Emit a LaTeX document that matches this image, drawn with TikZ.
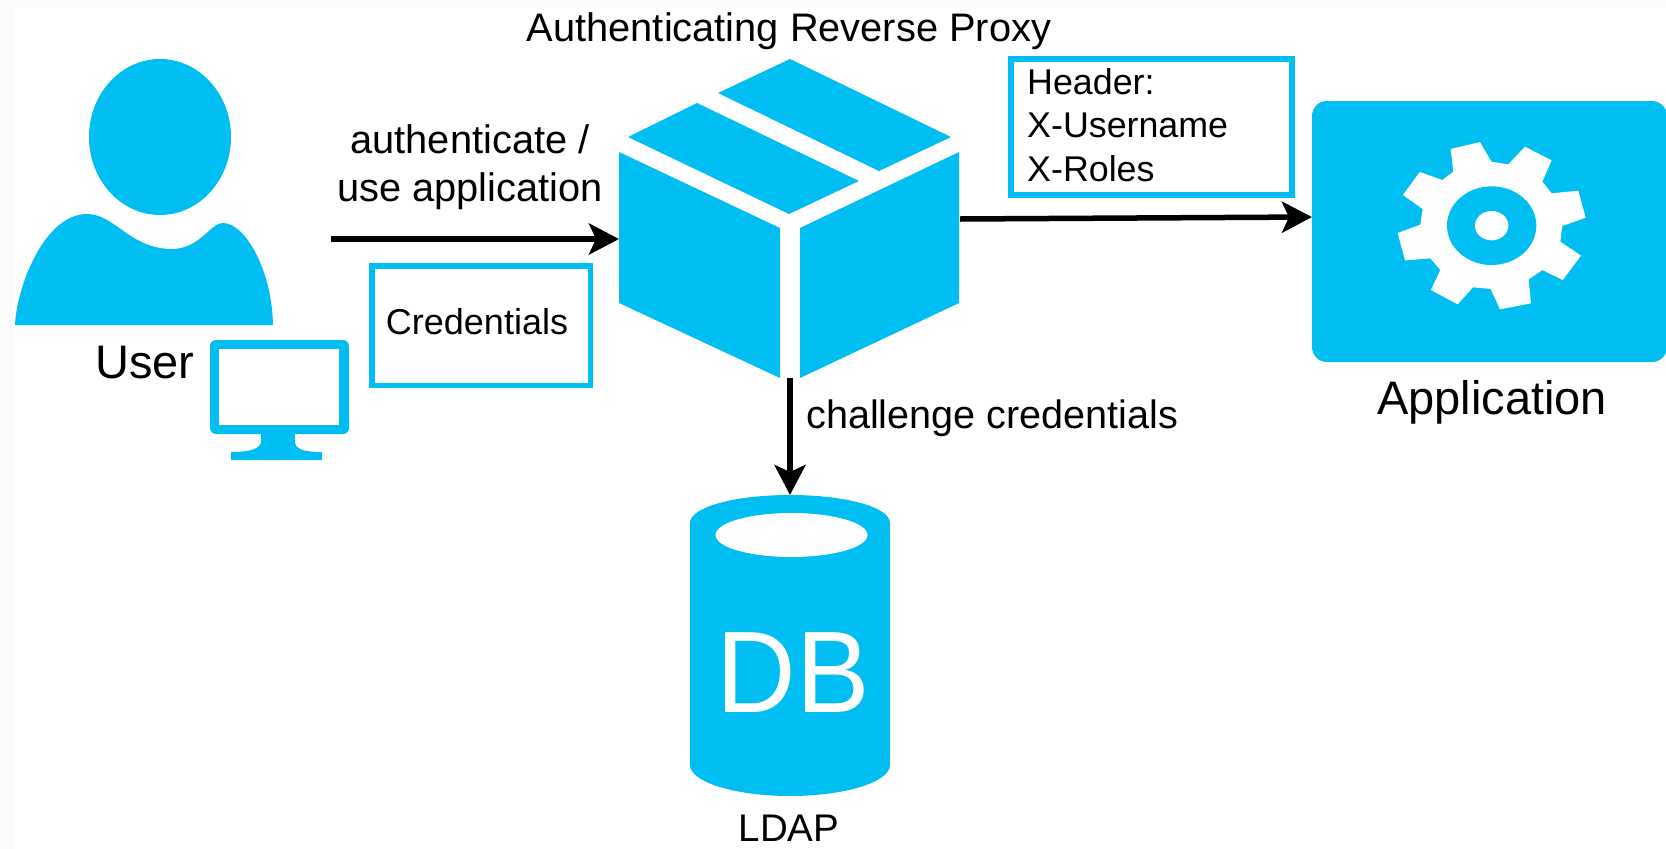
\documentclass[tikz,border=0pt]{standalone}
\usepackage{fontspec}
\setmainfont{Liberation Sans}
\usetikzlibrary{arrows.meta}
\definecolor{iconblue}{HTML}{00BEF2}
\definecolor{stripgray}{HTML}{FBFBFB}
\tikzset{
  icon/.style={fill=iconblue,draw=none},
  cutout/.style={fill=white,draw=none},
  flow/.style={draw=black,line width=5.5pt,-{Stealth[length=30pt,width=31pt,inset=7pt]}},
  notebox/.style={draw=iconblue,line width=6pt,fill=white,inner sep=0pt},
  caption/.style={inner sep=0pt,text=black},
}
\begin{document}
\begin{tikzpicture}[x=1pt,y=-1pt]
\useasboundingbox (0,0) rectangle (1666,849);
\fill[white] (0,0) rectangle (1666,849);
\fill[stripgray] (0,0) rectangle (14,849);
\fill[stripgray] (0,0) rectangle (1666,8);

% user
\fill[icon] (160,137) ellipse [x radius=71,y radius=78];
\fill[icon] (15,325) .. controls (17,285) and (45,214) .. (87,214)
  .. controls (115,214) and (130,249) .. (172,249)
  .. controls (200,249) and (210,223) .. (223,223)
  .. controls (245,223) and (272,270) .. (273,325) -- cycle;
\fill[icon,rounded corners=6pt] (210,340) rectangle (349,434);
\fill[cutout] (219,349) rectangle (339,425);
\fill[icon] (261,430) -- (261,441) .. controls (261,449) and (250,452) .. (231,452)
  -- (231,460) -- (322,460) -- (322,452)
  .. controls (303,452) and (295,449) .. (295,441) -- (295,430) -- cycle;
\node[caption,anchor=base,font=\fontsize{47}{50}\selectfont] (userlabel) at (145,378) {User};

% proxy box
\fill[icon] (790,59) -- (951,137) -- (879,171) -- (718,93) -- cycle;
\fill[icon] (697,103) -- (859,181) -- (789,214) -- (628,137) -- cycle;
\fill[icon] (619,152) -- (780,228) -- (780,378) -- (619,303) -- cycle;
\fill[icon] (959,152) -- (800,228) -- (800,378) -- (959,303) -- cycle;
\node[caption,anchor=base,font=\fontsize{39.8}{44}\selectfont] (proxylabel) at (789,41) {Authenticating Reverse Proxy};

% application
\fill[icon,rounded corners=15pt] (1312,101) rectangle (1667,362);
\begin{scope}[shift={(1290,80)},x=0.33333pt,y=-0.33333pt]
  \fill[cutout] (482,207) -- (570,186) -- (604,245) -- (655,253) -- (705,200) -- (785,241)
    -- (757,305) -- (785,340) -- (865,332) -- (887,413) -- (817,438) -- (811,485)
    -- (873,527) -- (818,600) -- (757,570) -- (716,598) -- (723,670) -- (630,688)
    -- (602,627) -- (549,622) -- (503,673) -- (423,630) -- (451,570) -- (421,535)
    -- (345,541) -- (323,459) -- (391,434) -- (398,387) -- (339,345) -- (389,276)
    -- (457,300) -- (490,275) -- cycle;
  \fill[icon] (605,437) ellipse [x radius=134,y radius=118];
  \fill[cutout] (605,437) ellipse [x radius=50,y radius=44];
\end{scope}
\node[caption,anchor=base,font=\fontsize{47}{50}\selectfont] (applabel) at (1492,414) {Application};

% database
\fill[icon] (690,523) .. controls (690,507) and (735,495) .. (790,495)
  .. controls (845,495) and (890,507) .. (890,523) -- (890,765)
  .. controls (890,782) and (845,796) .. (790,796)
  .. controls (735,796) and (690,782) .. (690,765) -- cycle;
\fill[cutout] (791.5,535) ellipse [x radius=76,y radius=22];
\node[caption,anchor=base,text=white] (dblabel) at (793.5,712)
  {\scalebox{0.95}[1]{\fontsize{116}{120}\selectfont DB}};
\node[caption,anchor=base,font=\fontsize{38.5}{42}\selectfont] (ldaplabel) at (789,841) {LDAP};

% notes
\node[notebox,line width=5.5pt,minimum width=218.5pt,minimum height=119.5pt] (credentials) at (481,325.5) {};
\node[caption,font=\fontsize{36}{40}\selectfont] (credtext) at (477,322) {Credentials};
\node[notebox,minimum width=281pt,minimum height=136pt] (headers) at (1151.5,127) {};
\node[caption,anchor=north west,align=left,font=\fontsize{35.8}{43.6}\selectfont] (headertext) at (1027,68)
  {Header:\\X-Username\\X-Roles};

% labels
\node[caption,align=center,font=\fontsize{39.8}{48}\selectfont] (authlabel) at (470,167) {authenticate /\\use application};
\node[caption,anchor=base west,font=\fontsize{39.6}{44}\selectfont] (challengelabel) at (806,428) {challenge credentials};

% connectors
\coordinate (userout) at (331,239);
\coordinate (proxyin) at (619,239);
\coordinate (proxyout) at (960,219);
\coordinate (appin) at (1312,217);
\coordinate (proxydown) at (790,378);
\coordinate (dbtop) at (790,495);
\draw[flow] (userout) -- (proxyin);
\draw[flow] (proxyout) -- (appin);
\draw[flow] (proxydown) -- (dbtop);
\end{tikzpicture}
\end{document}
